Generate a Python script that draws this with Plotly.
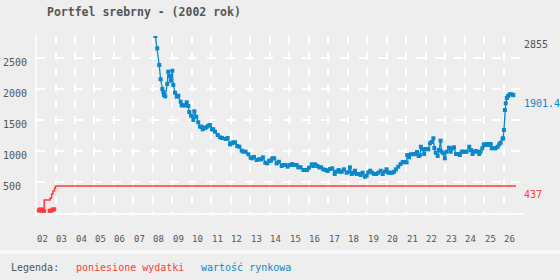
import plotly.graph_objects as go

# ---------------- data ----------------
title_text = "Portfel srebrny - (2002 rok)"

market_years = [
    2008.12, 2008.22, 2008.32, 2008.39, 2008.48, 2008.53, 2008.56, 2008.63, 2008.73, 2008.78,
    2008.84, 2008.91, 2008.99, 2009.04, 2009.13, 2009.22, 2009.30, 2009.42, 2009.47, 2009.55,
    2009.64, 2009.73, 2009.81, 2009.86, 2009.95, 2010.07, 2010.12, 2010.22, 2010.32, 2010.41,
    2010.50, 2010.55, 2010.67, 2010.75, 2010.84, 2010.92, 2011.03, 2011.09, 2011.18, 2011.32,
    2011.44, 2011.54, 2011.73, 2011.83, 2011.95, 2012.04, 2012.12, 2012.21, 2012.32, 2012.43,
    2012.55, 2012.63, 2012.75, 2012.89, 2013.01, 2013.09, 2013.18, 2013.32, 2013.44, 2013.54,
    2013.64, 2013.76, 2013.86, 2013.96, 2014.05, 2014.12, 2014.22, 2014.34, 2014.46, 2014.60,
    2014.68, 2014.81, 2014.91, 2015.03, 2015.14, 2015.25, 2015.37, 2015.45, 2015.57, 2015.71,
    2015.83, 2015.91, 2016.00, 2016.14, 2016.22, 2016.32, 2016.43, 2016.53, 2016.62, 2016.73,
    2016.86, 2016.96, 2017.08, 2017.19, 2017.32, 2017.38, 2017.52, 2017.59, 2017.68, 2017.79,
    2017.93, 2018.05, 2018.10, 2018.19, 2018.27, 2018.36, 2018.45, 2018.56, 2018.65, 2018.75,
    2018.87, 2018.96, 2019.04, 2019.14, 2019.25, 2019.35, 2019.44, 2019.55, 2019.68, 2019.78,
    2019.90, 2019.98, 2020.09, 2020.15, 2020.27, 2020.37, 2020.46, 2020.58, 2020.70, 2020.81,
    2020.92, 2021.01, 2021.04, 2021.13, 2021.23, 2021.35, 2021.45, 2021.54, 2021.63, 2021.69,
    2021.74, 2021.83, 2021.91, 2022.00, 2022.12, 2022.21, 2022.29, 2022.38, 2022.43, 2022.50,
    2022.60, 2022.67, 2022.75, 2022.80, 2022.89, 2022.97, 2023.06, 2023.18, 2023.27, 2023.37,
    2023.44, 2023.54, 2023.66, 2023.74, 2023.83, 2023.91, 2024.00, 2024.09, 2024.22, 2024.31,
    2024.39, 2024.46, 2024.55, 2024.63, 2024.73, 2024.80, 2024.89, 2024.97, 2025.06, 2025.14,
    2025.23, 2025.32, 2025.38, 2025.49, 2025.57, 2025.68, 2025.76, 2025.83, 2025.93, 2025.96,
    2026.00, 2026.05, 2026.09, 2026.15, 2026.21, 2026.29, 2026.39, 2026.48,
]
market_values = [
    2855, 2657, 2387, 2157, 2000, 1952, 1903, 1882, 2081, 2279,
    2210, 2134, 2295, 2065, 1941, 1876, 1892, 1795, 1737, 1737,
    1737, 1786, 1726, 1629, 1570, 1500, 1640, 1553, 1463, 1392,
    1392, 1350, 1371, 1387, 1408, 1419, 1350, 1350, 1311, 1258,
    1221, 1210, 1194, 1210, 1108, 1124, 1140, 1140, 1081, 1069,
    1005, 989, 989, 947, 892, 882, 903, 855, 866, 866,
    898, 811, 801, 844, 844, 882, 882, 801, 827, 758,
    774, 774, 747, 774, 790, 774, 774, 737, 737, 694,
    694, 694, 731, 785, 758, 785, 758, 737, 737, 705,
    694, 677, 710, 721, 629, 666, 694, 666, 666, 705,
    650, 666, 737, 629, 650, 682, 629, 629, 613, 650,
    585, 602, 656, 682, 650, 629, 629, 650, 682, 629,
    666, 705, 650, 650, 650, 666, 705, 747, 790, 823,
    818, 818, 935, 898, 947, 952, 947, 984, 919, 935,
    1069, 1027, 952, 1032, 1027, 1124, 1145, 1205, 1048, 973,
    919, 1016, 1166, 989, 963, 882, 989, 1053, 989, 1044,
    1060, 952, 952, 935, 989, 989, 989, 989, 1069, 1016,
    952, 989, 1000, 989, 952, 989, 1044, 1108, 1097, 1113,
    1097, 1113, 1044, 1044, 1044, 1069, 1108, 1134, 1199, 1205,
    1339, 1661, 1769, 1855, 1887, 1915, 1915, 1901.4,
]

cost_line_years = [2002.15, 2002.42, 2002.72, 2002.80, 2002.87, 2002.95, 2003.00, 2026.62]
cost_line_values = [75, 210, 237, 306, 355, 398, 437, 437]

cost_point_years = [2002.12, 2002.20, 2002.28, 2002.42, 2002.70, 2002.78, 2002.86, 2002.93]
cost_point_values = [40, 55, 35, 35, 35, 40, 55, 60]

y_ticks = [500, 1000, 1500, 2000, 2500]
x_years = list(range(2002, 2027))
x_labels = [f"{y % 100:02d}" for y in x_years]

legend_title = "Legenda:"
legend_cost = "poniesione wydatki"
legend_market = "wartość rynkowa"

max_label = "2855"
last_market_label = "1901.4"
last_cost_label = "437"

# ---------------- style ----------------
RED = "#ff3b3b"
BLUE = "#0b88cc"
GRAY = "#555555"
BG = "#eeeeee"
FONT = "DejaVu Sans Mono"

W, H = 560, 280
L, R, T, B = 36, 35, 36, 66
PW, PH = W - L - R, H - T - B


def px_x(px):
    return (px - L) / PW


def px_y(py):
    return (H - B - py) / PH


fig = go.Figure()

fig.add_trace(go.Scatter(
    x=cost_line_years, y=cost_line_values, mode="lines",
    line=dict(color=RED, width=1.5, shape="hv"), hoverinfo="skip", showlegend=False,
))
fig.add_trace(go.Scatter(
    x=cost_point_years, y=cost_point_values, mode="markers",
    marker=dict(color=RED, size=4, symbol="square", line=dict(width=0)),
    hoverinfo="skip", showlegend=False,
))
fig.add_trace(go.Scatter(
    x=market_years, y=market_values, mode="lines+markers",
    line=dict(color=BLUE, width=1.3),
    marker=dict(color=BLUE, size=4, symbol="square", line=dict(width=0)),
    hoverinfo="skip", showlegend=False,
))

annotations = []
# title
annotations.append(dict(text=title_text, x=px_x(45), y=px_y(12), xref="paper", yref="paper",
                        xanchor="left", yanchor="middle", showarrow=False,
                        font=dict(family=FONT, size=11.5, color=GRAY, weight="bold")))
# y tick labels (left aligned)
for v in y_ticks:
    annotations.append(dict(text=str(v), x=px_x(1), y=v, xref="paper", yref="y",
                            xanchor="left", yanchor="middle", yshift=-4, showarrow=False,
                            font=dict(family=FONT, size=10, color=GRAY)))
# x tick labels
for yr, lab in zip(x_years, x_labels):
    annotations.append(dict(text=lab, x=yr, y=px_y(239), xref="x", yref="paper",
                            xanchor="left", yanchor="middle", xshift=-1.5, showarrow=False,
                            font=dict(family=FONT, size=9, color=GRAY)))
# right-side value labels
annotations.append(dict(text=max_label, x=px_x(522), y=max(market_values), xref="paper", yref="y",
                        xanchor="left", yanchor="top", yshift=-1, showarrow=False,
                        font=dict(family=FONT, size=10, color=GRAY)))
annotations.append(dict(text=last_market_label, x=px_x(522), y=market_values[-1], xref="paper", yref="y",
                        xanchor="left", yanchor="top", yshift=-1, showarrow=False,
                        font=dict(family=FONT, size=10, color=BLUE)))
annotations.append(dict(text=last_cost_label, x=px_x(522), y=cost_line_values[-1], xref="paper", yref="y",
                        xanchor="left", yanchor="top", yshift=-1, showarrow=False,
                        font=dict(family=FONT, size=10, color=RED)))
# legend
for txt, xp, col in [(legend_title, 9, GRAY), (legend_cost, 74, RED), (legend_market, 199, BLUE)]:
    annotations.append(dict(text=txt, x=px_x(xp), y=px_y(267), xref="paper", yref="paper",
                            xanchor="left", yanchor="middle", showarrow=False,
                            font=dict(family=FONT, size=10, color=col)))

shapes = [
    # separator strip above legend
    dict(type="rect", xref="paper", yref="paper", x0=px_x(0), x1=px_x(W), y0=px_y(254), y1=px_y(250),
         fillcolor="#f8f8f8", line=dict(width=0), layer="below"),
    # left axis line
    dict(type="line", xref="paper", yref="paper", x0=0, x1=0, y0=px_y(217), y1=1,
         line=dict(color="white", width=1.5)),
    # bottom axis line
    dict(type="line", xref="paper", yref="paper", x0=0, x1=1, y0=px_y(214), y1=px_y(214),
         line=dict(color="white", width=1.5)),
]

fig.update_layout(
    width=W, height=H,
    margin=dict(l=L, r=R, t=T, b=B),
    paper_bgcolor=BG, plot_bgcolor=BG,
    annotations=annotations, shapes=shapes,
    showlegend=False,
)
fig.update_xaxes(
    range=[2002, 2027.08], showticklabels=False, zeroline=False, showline=False,
    showgrid=True, tickvals=x_years, gridcolor="white", gridwidth=1.5, griddash="8px,8px",
    ticks="",
)
fig.update_yaxes(
    range=[-16, 2855], showticklabels=False, zeroline=False, showline=False,
    showgrid=True, tickvals=y_ticks, gridcolor="white", gridwidth=1.5, griddash="9px,10px",
    ticks="",
)

fig.write_html("out.html", config={"displayModeBar": False})
